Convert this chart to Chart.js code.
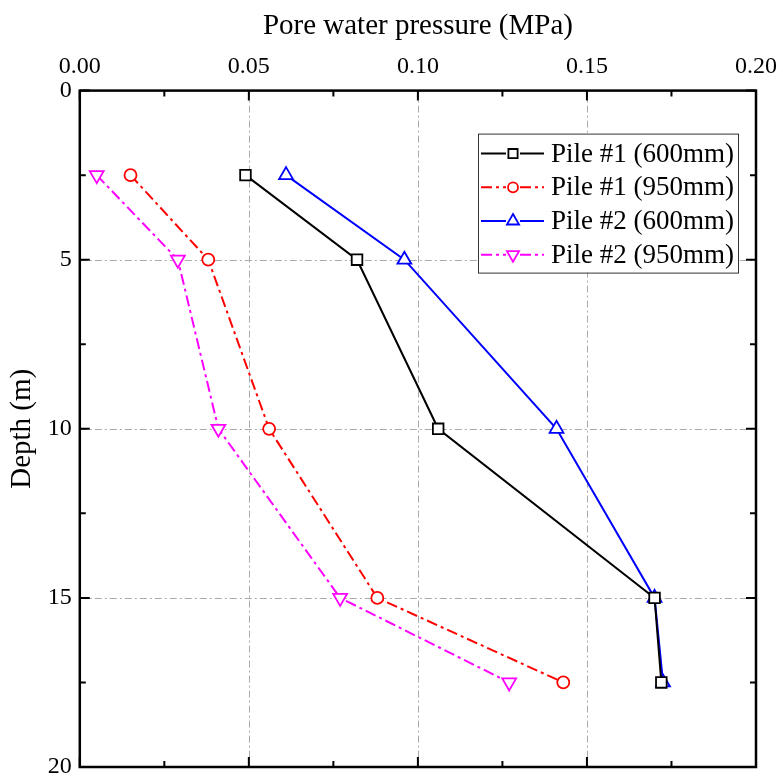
<!DOCTYPE html>
<html>
<head>
<meta charset="utf-8">
<script src="https://cdn.jsdelivr.net/npm/chart.js@4.4.0/dist/chart.umd.min.js"></script>
<style>
  html, body { margin: 0; padding: 0; background: #fff; }
  #wrap { width: 783px; height: 778px; }
</style>
</head>
<body>
<div id="wrap"><canvas id="chart" width="783" height="778"></canvas></div>
<script>
// depths (m) shared by every series
const depths = [2.5, 5, 10, 15, 17.5];

// pore water pressure (MPa)
const pile1_600 = [0.049, 0.082, 0.106, 0.170, 0.172];
const pile1_950 = [0.015, 0.038, 0.056, 0.088, 0.143];
const pile2_600 = [0.061, 0.096, 0.141, 0.170, 0.1725];
const pile2_950 = [0.005, 0.029, 0.041, 0.077, 0.127];

const seriesNames = ['Pile #1 (600mm)', 'Pile #1 (950mm)', 'Pile #2 (600mm)', 'Pile #2 (950mm)'];

const xTicks = [0, 0.05, 0.10, 0.15, 0.20];
const yTicks = [0, 5, 10, 15, 20];

const FONT = '"Liberation Serif", "Times New Roman", serif';

const toPoints = vals => vals.map((v, i) => ({ x: v, y: depths[i] }));

const styles = [
    { color: '#000000', dash: [], point: 'rect', radius: 7.5, rot: 0 },
    { color: '#ff0000', dash: [11, 4, 3, 4], point: 'circle', radius: 6, rot: 0 },
    { color: '#0000ff', dash: [], point: 'triangle', radius: 8, rot: 0 },
    { color: '#ff00ff', dash: [11, 4, 3, 4], point: 'triangle', radius: 8, rot: 180 }
];

const allValues = [pile1_600, pile1_950, pile2_600, pile2_950];

const datasets = allValues.map((vals, i) => ({
    label: seriesNames[i],
    data: toPoints(vals),
    showLine: true,
    borderColor: styles[i].color,
    borderWidth: 2,
    borderDash: styles[i].dash,
    backgroundColor: '#ffffff',
    pointStyle: styles[i].point,
    pointRadius: styles[i].radius,
    pointRotation: styles[i].rot,
    pointBorderColor: styles[i].color,
    pointBackgroundColor: '#ffffff',
    pointBorderWidth: 1.8,
    tension: 0
}));

// --- gridlines, framed axes with inward ticks, legend box ---
const framePlugin = {
    id: 'frame',
    beforeDatasetsDraw(chart) {
        const { ctx, chartArea: a, scales: { x, y } } = chart;
        ctx.save();
        ctx.strokeStyle = '#aaaaaa';
        ctx.lineWidth = 1;
        ctx.setLineDash([7, 3, 2, 3]);
        xTicks.slice(1, -1).forEach(v => {
            const px = Math.round(x.getPixelForValue(v)) + 0.5;
            ctx.beginPath(); ctx.moveTo(px, a.top); ctx.lineTo(px, a.bottom); ctx.stroke();
        });
        yTicks.slice(1, -1).forEach(v => {
            const py = Math.round(y.getPixelForValue(v)) + 0.5;
            ctx.beginPath(); ctx.moveTo(a.left, py); ctx.lineTo(a.right, py); ctx.stroke();
        });
        ctx.restore();
    },
    afterDatasetsDraw(chart) {
        const { ctx, chartArea: a, scales: { x, y } } = chart;
        ctx.save();
        ctx.strokeStyle = '#000';
        ctx.lineWidth = 2.5;
        ctx.setLineDash([]);
        ctx.strokeRect(a.left, a.top, a.right - a.left, a.bottom - a.top);

        // x ticks (major + minor) on top and bottom
        ctx.lineWidth = 2;
        for (let k = 0; k <= 8; k++) {
            const v = k * 0.025;
            const len = k % 2 === 0 ? 10 : 6;
            const px = x.getPixelForValue(v);
            ctx.beginPath();
            ctx.moveTo(px, a.top); ctx.lineTo(px, a.top + len);
            ctx.moveTo(px, a.bottom); ctx.lineTo(px, a.bottom - len);
            ctx.stroke();
        }
        // y ticks on left and right
        for (let k = 0; k <= 8; k++) {
            const v = k * 2.5;
            const len = k % 2 === 0 ? 10 : 6;
            const py = y.getPixelForValue(v);
            ctx.beginPath();
            ctx.moveTo(a.left, py); ctx.lineTo(a.left + len, py);
            ctx.moveTo(a.right, py); ctx.lineTo(a.right - len, py);
            ctx.stroke();
        }

        // legend
        const bx = a.right - 278, by = a.top + 43, bw = 260, bh = 139;
        ctx.fillStyle = '#fff';
        ctx.fillRect(bx, by, bw, bh);
        ctx.lineWidth = 1;
        ctx.strokeStyle = '#333';
        ctx.strokeRect(bx + 0.5, by + 0.5, bw, bh);
        ctx.font = '27px ' + FONT;
        ctx.textBaseline = 'middle';
        chart.data.datasets.forEach((ds, i) => {
            const cy = by + 20 + i * 33.7;
            const x0 = bx + 3, x1 = bx + 66, xm = bx + 35;
            ctx.strokeStyle = ds.borderColor;
            ctx.lineWidth = 2;
            ctx.setLineDash(ds.borderDash);
            ctx.beginPath(); ctx.moveTo(x0, cy); ctx.lineTo(xm - 7, cy);
            ctx.moveTo(xm + 7, cy); ctx.lineTo(x1, cy); ctx.stroke();
            ctx.setLineDash([]);
            ctx.lineWidth = 1.8;
            ctx.fillStyle = '#fff';
            Chart.helpers.drawPoint(ctx, {
                pointStyle: ds.pointStyle, radius: ds.pointRadius - 1, rotation: ds.pointRotation, borderWidth: 1.8
            }, xm, cy);
            ctx.fillStyle = '#000';
            ctx.fillText(ds.label, bx + 73, cy + 1);
        });
        ctx.restore();
    }
};

new Chart(document.getElementById('chart'), {
    type: 'scatter',
    data: { datasets },
    options: {
        responsive: false,
        animation: false,
        layout: { padding: { top: 9, right: 27, bottom: 11, left: 2 } },
        plugins: { legend: { display: false }, tooltip: { enabled: false } },
        scales: {
            x: {
                position: 'top',
                min: 0, max: 0.2,
                afterBuildTicks: s => { s.ticks = xTicks.map(v => ({ value: v })); },
                afterFit: s => { s.paddingLeft = 0; s.paddingRight = 0; },
                grid: { display: false, drawTicks: false },
                border: { display: false },
                ticks: {
                    padding: 9,
                    color: '#000',
                    font: { family: FONT, size: 24 },
                    maxRotation: 0,
                    callback: v => Number(v).toFixed(2)
                },
                title: { display: true, text: 'Pore water pressure (MPa)', color: '#000',
                         font: { family: FONT, size: 29 }, padding: { top: 0, bottom: 0 } }
            },
            y: {
                reverse: true,
                min: 0, max: 20,
                afterBuildTicks: s => { s.ticks = yTicks.map(v => ({ value: v })); },
                afterFit: s => { s.paddingTop = 0; s.paddingBottom = 0; },
                grid: { display: false, drawTicks: false },
                border: { display: false },
                ticks: {
                    padding: 8,
                    color: '#000',
                    font: { family: FONT, size: 24 }
                },
                title: { display: true, text: 'Depth (m)', color: '#000',
                         font: { family: FONT, size: 29 }, padding: { top: 3, bottom: 0 } }
            }
        }
    },
    plugins: [framePlugin]
});
</script>
</body>
</html>
